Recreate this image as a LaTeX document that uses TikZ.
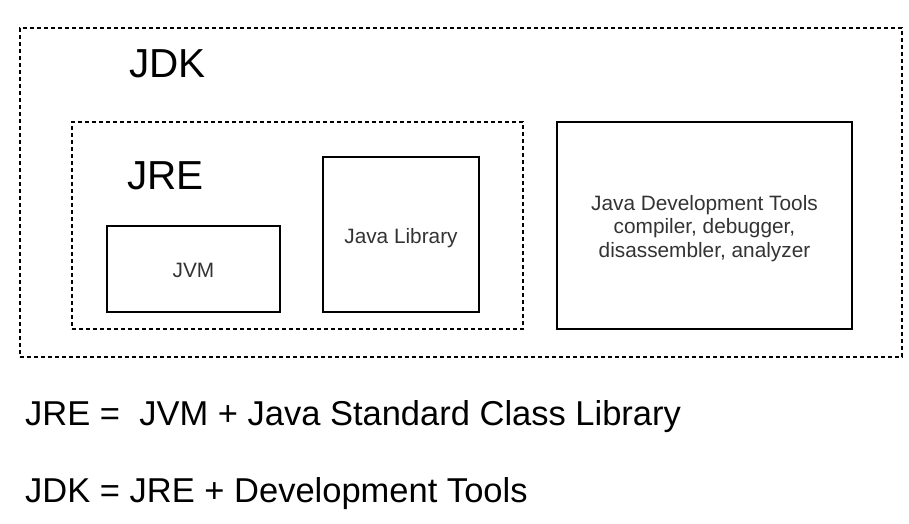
\documentclass[tikz,border=0pt]{standalone}
\usepackage{fontspec}
\setmainfont{Liberation Sans}
\begin{document}
\begin{tikzpicture}[x=1pt,y=1pt,
  solidbox/.style={draw=black,line width=1.4pt,inner sep=0pt,outer sep=0pt,fill=white},
  dashbox/.style={draw=black,line width=1.2pt,dash pattern=on 4pt off 3pt,inner sep=0pt,outer sep=0pt},
  biglabel/.style={inner sep=0pt,anchor=base west,font=\fontsize{40.5}{48}\selectfont},
  smalltext/.style={text=black!80,font=\fontsize{20.8}{23.5}\selectfont,align=center},
  eqtext/.style={inner sep=0pt,anchor=base west,font=\fontsize{34.5}{41}\selectfont}]
\useasboundingbox[fill=white] (0,0) rectangle (909,-523);
\node[dashbox,minimum width=882pt,minimum height=329pt] (jdk) at (461,-192.5) {};
\node[dashbox,minimum width=451pt,minimum height=207pt] (jre) at (297.5,-225.5) {};
\node[biglabel] (jdklabel) at (129,-77) {JDK};
\node[biglabel] (jrelabel) at (127,-189) {JRE};
\node[solidbox,minimum width=173pt,minimum height=86pt] (jvm) at (193.5,-269) {};
\node[smalltext,yshift=-1pt] (jvmtext) at (jvm.center) {JVM};
\node[solidbox,minimum width=156pt,minimum height=155pt] (lib) at (401,-234.5) {};
\node[smalltext,yshift=-3.5pt] (libtext) at (lib.center) {Java Library};
\node[solidbox,minimum width=295pt,minimum height=207pt] (tools) at (704.5,-225.5) {};
\node[smalltext,yshift=-3pt] (toolstext) at (tools.center) {Java Development Tools\\compiler, debugger,\\disassembler, analyzer};
\node[eqtext] (eq1) at (25,-425) {JRE =\ \ JVM + Java Standard Class Library};
\node[eqtext] (eq2) at (25,-502) {JDK = JRE + Development Tools};
\end{tikzpicture}
\end{document}
